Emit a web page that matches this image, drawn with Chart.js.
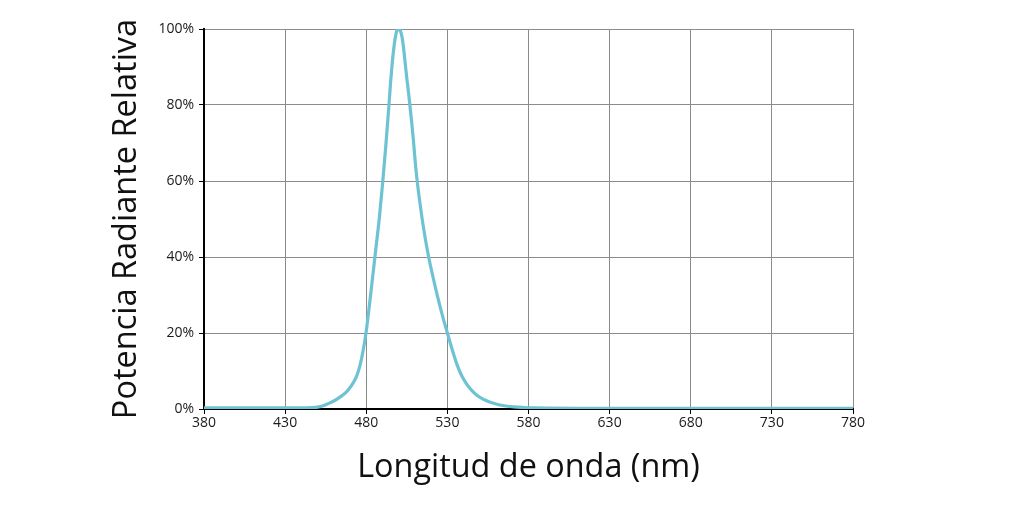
<!DOCTYPE html>
<html>
<head>
<meta charset="utf-8">
<script src="https://cdn.jsdelivr.net/npm/chart.js@4.4.0/dist/chart.umd.min.js"></script>
<style>
html,body{margin:0;padding:0;background:#fff;}
#wrap{width:1024px;height:516px;position:relative;}
</style>
</head>
<body>
<div id="wrap"><canvas id="c" width="1024" height="516"></canvas></div>
<script>
const wavelengths = [380,400,420,440,446,450,453,456,460,464,468,471,474,476,478,480,482,484,486,488,490,492,494,495,496,497,498,499,500,501,502,503,504,505,506,507,508,509,510,511,513,515,518,521,524,527,530,533,536,539,542,545,548,552,556,561,566,571,577,584,592,610,640,680,720,760,780];
const power = [0.3,0.3,0.3,0.3,0.35,0.5,0.8,1.3,2.1,3.2,4.6,6.2,8.6,11.2,15.2,20.5,27.5,35,42.5,50,59,69,80,86,91,95,98,99.7,100,99.6,98,95,91,87,83.5,79.5,75.5,71,66,61.5,54.5,48.5,41,35,29.5,24.5,20,15.6,11.6,8.6,6.5,4.9,3.7,2.6,1.85,1.2,0.8,0.55,0.4,0.3,0.25,0.2,0.2,0.2,0.2,0.2,0.2];
const xTicks = [380,430,480,530,580,630,680,730,780];
const yTicks = [0,20,40,60,80,100];
const yTitle = 'Potencia Radiante Relativa';
const xTitle = 'Longitud de onda (nm)';

const FONT = "'Open Sans', sans-serif";
const pts = wavelengths.map((w,i)=>({x:w,y:power[i]}));

new Chart(document.getElementById('c'), {
  type: 'line',
  data: { datasets: [{
    data: pts,
    borderColor: '#6dc3d3',
    borderWidth: 3.2,
    pointRadius: 0,
    cubicInterpolationMode: 'monotone',
    fill: false
  }]},
  options: {
    responsive: false,
    animation: false,
    devicePixelRatio: 1,
    layout: { padding: { top: 29, right: 171, left: 0, bottom: 0 } },
    plugins: { legend: { display: false }, tooltip: { enabled: false } },
    scales: {
      x: {
        type: 'linear', min: 380, max: 780,
        afterBuildTicks: s => { s.ticks = xTicks.map(v=>({value:v})); },
        afterFit: s => { s.height = 107; },
        grid: { color: '#8c8c8c', lineWidth: 1, tickLength: 5, tickColor: '#000', drawTicks: true },
        border: { color: '#000', width: 2 },
        ticks: { color: '#1a1a1a', font: { family: FONT, size: 14 }, padding: 1, maxRotation: 0 },
        title: { display: true, text: xTitle, color: '#111', font: { family: FONT, size: 32.4 }, padding: { top: 0, bottom: 29 } }
      },
      y: {
        min: 0, max: 100,
        afterBuildTicks: s => { s.ticks = yTicks.map(v=>({value:v})); },
        afterFit: s => { s.width = 204; },
        grid: { color: '#8c8c8c', lineWidth: 1, tickLength: 5, tickColor: '#000' },
        border: { color: '#000', width: 2 },
        ticks: { color: '#1a1a1a', font: { family: FONT, size: 14 }, padding: 5, callback: v => v + '%' },
        title: { display: true, text: yTitle, color: '#111', font: { family: FONT, size: 32.5 }, padding: { top: 107.5, bottom: 0 } }
      }
    }
  }
});
</script>
</body>
</html>
